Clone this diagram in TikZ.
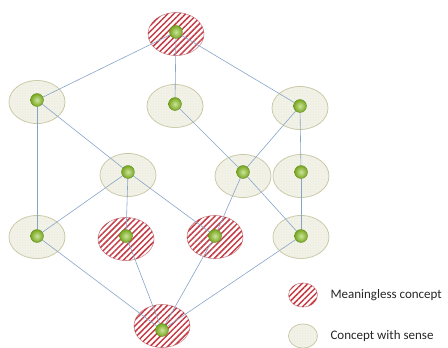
\documentclass[tikz,border=0pt]{standalone}
\usepackage{fontspec}
\setmainfont{Carlito}
\usetikzlibrary{shapes.geometric,patterns.meta}

\definecolor{hatchred}{RGB}{195,60,70}
\definecolor{hatchrim}{RGB}{205,140,145}
\definecolor{sensefill}{RGB}{243,243,233}
\definecolor{senserim}{RGB}{200,200,165}
\definecolor{ballgreen}{RGB}{140,195,35}
\definecolor{edgeblue}{RGB}{135,165,200}

\tikzset{
    concept/.style={ellipse, inner sep=0pt, minimum width=56pt, minimum height=43pt},
    void/.style={concept, draw=hatchrim, line width=0.6pt, fill=white,
        postaction={pattern={Lines[angle=45,distance=4.2pt,line width=1.5pt]}, pattern color=hatchred}},
    sense/.style={concept, draw=senserim, line width=0.8pt, fill=sensefill,
        postaction={pattern={Dots[distance=1.6pt,radius=0.35pt]}, pattern color=senserim!45}},
    ball/.style={circle, inner sep=0pt, minimum size=13pt, draw=ballgreen!70!black, line width=0.3pt,
        inner color=ballgreen!45!white, outer color=ballgreen!85!black},
    link/.style={edgeblue, line width=0.6pt},
    legend/.style={anchor=west, font=\fontsize{13}{15}\selectfont, text=black!85}
}

\begin{document}
\begin{tikzpicture}[x=1pt, y=-1pt]
    \useasboundingbox (0,0) rectangle (448,348);

    % concepts of the lattice: name/x/y/ellipse offset/kind
    \foreach \n/\x/\y/\dy/\k in {t/176/32/2/void,
            a1/37/100/2/sense, a2/175/104/2/sense, a3/300/106/2/sense,
            b1/128/172/3/sense, b2/243/172/4/sense, b3/301/172/4/sense,
            c1/37/236/1/sense, c2/126/236/3/void, c3/215/236/1/void, c4/301/236/1/sense,
            z/162/330/-4/void} {
        \node[\k] (e\n) at (\x,\y+\dy) {};
        \node[ball] (\n) at (\x,\y) {};
    }

    % order relation
    \foreach \u/\v in {t/a1, t/a2, t/a3,
            a1/c1, a1/b1, a2/b2, a3/b2, a3/b3,
            b1/c1, b1/c2, b1/c3, b2/c3, b2/c4, b3/c4,
            c1/z, c2/z, c3/z, c4/z}
        \draw[link] (\u) -- (\v);

    % legend
    \node[void, minimum width=29pt, minimum height=24pt] (lvoid) at (303,295) {};
    \node[sense, minimum width=29pt, minimum height=24pt] (lsense) at (303,336) {};
    \node[legend] at (327,295) {Meaningless concept};
    \node[legend] at (327,336) {Concept with sense};
\end{tikzpicture}
\end{document}
